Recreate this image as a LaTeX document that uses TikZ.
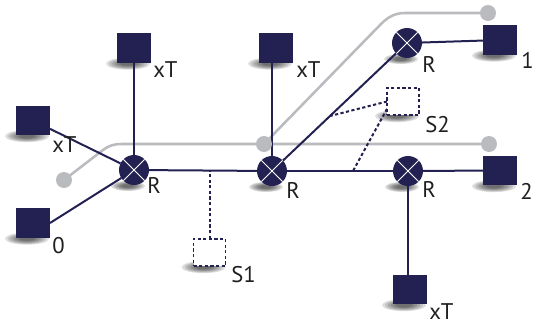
\documentclass[tikz,border=0pt]{standalone}
\usepackage{fontspec}
\setmainfont{PT Sans}
\usetikzlibrary{calc}
\definecolor{navy}{RGB}{35,33,82}
\definecolor{lgray}{RGB}{186,187,191}
\pgfdeclarelayer{shadowlayer}
\pgfdeclarelayer{linelayer}
\pgfsetlayers{shadowlayer,linelayer,main}
\newcommand\softshadow[3]{\foreach \k in {0,...,5}{\fill[black, opacity=0.13] #1 ellipse ({#2*(1-0.13*\k)} and {#3*(1-0.13*\k)});}}
\tikzset{
 term/.style={fill=navy, minimum width=25.5pt, minimum height=22pt, inner sep=0pt, outer sep=0pt},
 spare/.style={draw=navy, fill=white, line width=1.4pt, dash pattern=on 2.4pt off 1.8pt, minimum width=24pt, minimum height=20.5pt, inner sep=0pt, outer sep=0pt},
 router/.style={circle, fill=navy, minimum size=22.5pt, inner sep=0pt, outer sep=0pt, path picture={\draw[white, line width=0.7pt] (path picture bounding box.north west) -- (path picture bounding box.south east) (path picture bounding box.north east) -- (path picture bounding box.south west);}},
 gdot/.style={circle, fill=lgray, minimum size=12pt, inner sep=0pt},
 lbl/.style={anchor=base west, inner sep=0pt, text=black!88, font=\fontsize{17}{20}\selectfont},
 link/.style={draw=navy, line width=1.5pt},
 dlink/.style={draw=navy, line width=1.5pt, dash pattern=on 2.4pt off 1.8pt},
 glink/.style={draw=lgray, line width=1.9pt},
}
\begin{document}
\begin{tikzpicture}[x=0.75pt,y=-0.75pt]
\useasboundingbox (0,0) rectangle (537,322);
% terminals
\node[term] (bTL) at (33,120.5) {};
\node[term] (b0) at (33,223) {};
\node[term] (bT1) at (134,48) {};
\node[term] (bT2) at (276,48) {};
\node[term] (b1) at (500,40) {};
\node[term] (b2) at (500,170.5) {};
\node[term] (bB) at (410,289.5) {};
% spare boxes
\node[spare] (S1) at (209.5,252.5) {};
\node[spare] (S2) at (403,101.5) {};
% routers
\node[router] (R1) at (134,170) {};
\node[router] (R2) at (272,171) {};
\node[router] (R3) at (407,43) {};
\node[router] (R4) at (408,171) {};
% gray dots
\node[gdot] (g1) at (64,180) {};
\node[gdot] (g2) at (264,144) {};
\node[gdot] (g3) at (489,144) {};
\node[gdot] (g4) at (488,13) {};
% free ends
\coordinate (d1) at (330,116);
\coordinate (d2) at (353,171);
% labels
\node[lbl] (lTL) at (52,152) {xT};
\node[lbl] (l0) at (52,253) {0};
\node[lbl] (lT1) at (153,77) {xT};
\node[lbl] (lT2) at (296,77) {xT};
\node[lbl] (lR1) at (147,193) {R};
\node[lbl] (lR2) at (286,198) {R};
\node[lbl] (lR3) at (422,72) {R};
\node[lbl] (lR4) at (422,197) {R};
\node[lbl] (l1) at (521,68) {1};
\node[lbl] (l2) at (520,199) {2};
\node[lbl] (lB) at (429,319) {xT};
\node[lbl] (lS1) at (231,282) {S1};
\node[lbl] (lS2) at (425,132) {S2};
% shadows
\begin{pgfonlayer}{shadowlayer}
\foreach \n in {bTL,b0,bT1,bT2,b1,b2,bB,S1,S2}{\softshadow{($(\n.south)+(-6,1)$)}{22}{6}}
\foreach \n in {R1,R2,R3,R4}{\softshadow{($(\n.south)+(-6,1)$)}{17}{5}}
\end{pgfonlayer}
% connectors
\begin{pgfonlayer}{linelayer}
\draw[glink] (g1.center) -- (103,150) .. controls (109,145.5) and (114,144) .. (122,144) -- (g3.center);
\draw[glink] (g2.center) -- (381,24) .. controls (388,17) and (395,13) .. (405,13) -- (g4.center);
\draw[link] (bTL) -- (R1);
\draw[link] (b0.east) -- (R1);
\draw[link] (R1) -- (bT1);
\draw[link] (R1) -- (R2);
\draw[link] (R2) -- (R4);
\draw[link] (R4) -- (b2);
\draw[link] (R2) -- (R2 |- bT2.south);
\draw[link] (R2) -- (R3);
\draw[link] (R3) -- (b1);
\draw[link] (R4) -- (R4 |- bB.north);
\draw[dlink] (S1.north) -- (S1.north |- R2);
\draw[dlink] (S2.west) -- (d1);
\draw[dlink] ([yshift=-5.5pt]S2.west) -- (d2);
\end{pgfonlayer}
\end{tikzpicture}
\end{document}
